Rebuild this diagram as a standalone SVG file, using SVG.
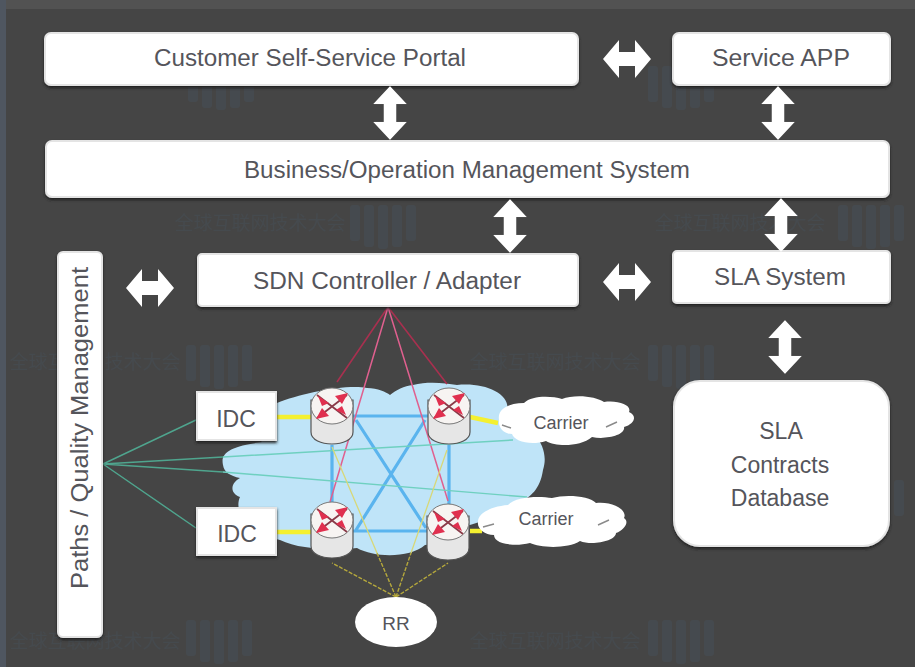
<svg xmlns="http://www.w3.org/2000/svg" width="915" height="667" viewBox="0 0 915 667">
<style>
text{font-family:"Liberation Sans",Arial,sans-serif;fill:#55555b;text-anchor:middle}
.box{fill:#fff;stroke:#e4e4e4;stroke-width:2;filter:url(#sh)}
.arw{fill:#fff;filter:url(#soft)}
.wm{fill:#46525c;opacity:.45}
.wt{font-family:"Noto Sans CJK SC","Liberation Sans",sans-serif;font-size:19px;fill:#46525c;opacity:.4}
.red{stroke:#a8304f;stroke-width:1.6;fill:none}
.pink{stroke:#e0608f;stroke-width:1.5;fill:none}
.grn{stroke:#4fa58e;stroke-width:1.4;fill:none}
.tea{stroke:#6fd0c0;stroke-width:1.4;fill:none}
.yd{stroke:#b5a83c;stroke-width:1.4;fill:none;stroke-dasharray:4 1.5}
.yl{stroke:#d8d878;stroke-width:1.3;fill:none}
.blu{stroke:#5ab4ee;stroke-width:3.2;fill:none}
.yt{stroke:#f4f030;stroke-width:4.5;fill:none}
.tick{stroke:#8a8a8a;stroke-width:1.4;fill:none}
</style>
<defs>
<filter id="sh" x="-10%" y="-10%" width="120%" height="130%"><feDropShadow dx="0" dy="2" stdDeviation="1.5" flood-color="#222"/></filter>
<filter id="soft"><feGaussianBlur stdDeviation="0.7"/></filter>
<path id="dbl" d="M-24 0L-8 -19V-7H8V-19L24 0L8 19V7H-8V19Z"/>
<g id="logo"><rect x="0" y="0" width="10" height="36" rx="3"/><rect x="14" y="0" width="10" height="42" rx="3"/><rect x="28" y="0" width="10" height="44" rx="3"/><rect x="42" y="0" width="10" height="42" rx="3"/><rect x="56" y="0" width="10" height="36" rx="3"/></g>
<g id="router">
<path d="M-21 -16V16C-21 32 21 32 21 16V-16Z" fill="#e6e6e6" stroke="#555" stroke-width="1.2"/>
<ellipse cx="0" cy="-10" rx="21" ry="18" fill="#f7f4f2" stroke="#777" stroke-width="1"/>
<path d="M-15 -21L15 2M15 -21L-15 2" stroke="#8a3a48" stroke-width="1.8"/>
<path d="M16 -23L3 -20L10 -12ZM-16 3L-3 0L-10 -8ZM-3 -13L-14 -20L-10 -10ZM4 -6L14 -1L10 -10Z" fill="#e0304f"/>
</g>
</defs>
<rect width="915" height="667" fill="#454545"/>
<rect x="0" y="0" width="915" height="9" fill="#525252"/>
<rect x="0" y="0" width="6" height="667" fill="#4f5660"/>
<g id="watermark">
<use href="#logo" class="wm" x="186" y="345"/><use href="#logo" class="wm" x="186" y="620"/><use href="#logo" class="wm" x="648" y="345"/><use href="#logo" class="wm" x="648" y="620"/><use href="#logo" class="wm" x="188" y="66"/><use href="#logo" class="wm" x="648" y="66"/><use href="#logo" class="wm" x="350" y="205"/><use href="#logo" class="wm" x="838" y="205"/><use href="#logo" class="wm" x="838" y="480"/>
<text class="wt" x="555" y="369">全球互联网技术大会</text>
<text class="wt" x="555" y="648">全球互联网技术大会</text>
<text class="wt" x="95" y="369">全球互联网技术大会</text>
<text class="wt" x="95" y="648">全球互联网技术大会</text>
<text class="wt" x="260" y="230">全球互联网技术大会</text>
<text class="wt" x="740" y="230">全球互联网技术大会</text>
</g>
<g id="ip-cloud"><path filter="url(#soft)" fill="#bfe4f8" d="M223 465C220 452 232 446 262 442C246 428 252 408 277 403C300 394 345 384 367 388C378 388 386 392 390 395C396 390 404 386 413 385C428 381 445 383 457 385C485 382 512 394 507 412C535 428 550 448 543 470C540 490 530 497 520 502C510 515 470 525 445 532C440 540 430 545 425 545C410 558 375 558 357 548C335 550 300 550 280 540C255 535 232 515 240 497C228 492 232 482 240 478C230 476 224 472 223 465Z"/></g>
<g id="connectors">
<path class="blu" d="M352 416H428M352 531H428M332 445V503M449 445V505M356 420L426 528M425 420L356 530"/>
<path class="yt" d="M277 417H312M277 532H312M470 417L498 423M470 531H482"/>
<path class="red" d="M388 307L337 382M388 307L447 384"/>
<path class="pink" d="M388 307L330 502M388 307L448 501"/>
<path class="grn" d="M103 464L196 420M103 464L196 528M103 464L223 457M103 464L223 472"/>
<path class="tea" d="M223 457L513 440M223 472L527 497"/>
<path class="yd" d="M396 597L332 563M396 597L448 563M396 597L377 553M396 597L411 553"/>
<path class="yl" d="M377 553L332 447M411 553L447 450"/>
</g>
<g id="router-tl"><use href="#router" x="332" y="416"/></g>
<g id="router-tr"><use href="#router" x="449" y="416"/></g>
<g id="router-bl"><use href="#router" x="332" y="530"/></g>
<g id="router-br"><use href="#router" x="448" y="532"/></g>
<g id="portal"><rect class="box" x="45" y="33" width="533" height="52" rx="6"/><text x="310" y="66" font-size="23" textLength="312" lengthAdjust="spacingAndGlyphs">Customer Self-Service Portal</text></g>
<g id="service-app"><rect class="box" x="673" y="33" width="217" height="52" rx="6"/><text x="781" y="66" font-size="23" textLength="138" lengthAdjust="spacingAndGlyphs">Service APP</text></g>
<g id="business"><rect class="box" x="46" y="141" width="843" height="56" rx="6"/><text x="467" y="178" font-size="23" textLength="446" lengthAdjust="spacingAndGlyphs">Business/Operation Management System</text></g>
<g id="sdn"><rect class="box" x="198" y="254" width="380" height="52" rx="4"/><text x="387" y="289" font-size="23" textLength="268" lengthAdjust="spacingAndGlyphs">SDN Controller / Adapter</text></g>
<g id="sla-system"><rect class="box" x="673" y="251" width="217" height="52" rx="4"/><text x="780" y="285" font-size="23" textLength="132" lengthAdjust="spacingAndGlyphs">SLA System</text></g>
<g id="paths"><rect class="box" x="58" y="252" width="44" height="385" rx="5"/><text transform="translate(88 428) rotate(-90)" font-size="23" textLength="322" lengthAdjust="spacingAndGlyphs">Paths / Quality Management</text></g>
<g id="sla-db"><rect class="box" x="674" y="381" width="215" height="165" rx="26"/><text x="781" y="439" font-size="23">SLA</text><text x="780" y="473" font-size="23">Contracts</text><text x="780" y="506" font-size="23">Database</text></g>
<g id="idc-top"><rect class="box" x="197" y="392" width="79" height="48"/><text x="236" y="427" font-size="23">IDC</text></g>
<g id="idc-bottom"><rect class="box" x="197" y="508" width="79" height="47"/><text x="237" y="542" font-size="23">IDC</text></g>
<g id="carrier-top"><path filter="url(#soft)" fill="#fff" d="M499 420C497 408 510 403 524 403C532 395 552 396 562 399C574 394 596 396 604 402C618 400 632 405 629 412C638 416 634 424 624 427C626 435 606 440 592 437C580 447 556 447 546 441C530 446 514 441 512 434C502 434 498 426 499 420Z"/><path class="tick" d="M502 425L511 428M606 427L617 422"/><text x="561" y="429" font-size="18">Carrier</text></g>
<g id="carrier-bottom"><path filter="url(#soft)" fill="#fff" d="M478 522C478 512 494 506 508 505C516 496 540 496 552 498C566 494 590 496 596 503C612 501 628 510 624 518C630 522 624 530 616 533C616 541 592 546 580 541C568 549 540 548 530 543C514 547 494 544 494 535C484 535 477 528 478 522Z"/><path class="tick" d="M483 527L494 524M598 525L609 520"/><text x="546" y="525" font-size="18">Carrier</text></g>
<g id="rr"><ellipse cx="396" cy="622" rx="41" ry="25" fill="#fff" filter="url(#soft)"/><text x="396" y="630" font-size="19">RR</text></g>
<g id="arrows">
<use href="#dbl" class="arw" transform="translate(627 59)"/>
<use href="#dbl" class="arw" transform="translate(390 113) rotate(90) scale(1.12 .88)"/>
<use href="#dbl" class="arw" transform="translate(778 113) rotate(90) scale(1.12 .88)"/>
<use href="#dbl" class="arw" transform="translate(510 226) rotate(90) scale(1.12 .88)"/>
<use href="#dbl" class="arw" transform="translate(781 225) rotate(90) scale(1.12 .88)"/>
<use href="#dbl" class="arw" transform="translate(150 288)"/>
<use href="#dbl" class="arw" transform="translate(627 282)"/>
<use href="#dbl" class="arw" transform="translate(785 347) rotate(90) scale(1.12 .88)"/>
</g>
</svg>
